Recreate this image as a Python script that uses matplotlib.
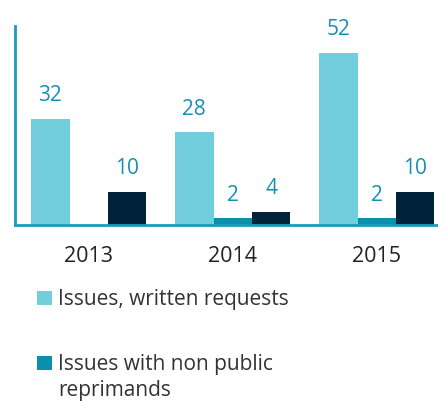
import matplotlib.pyplot as plt
import numpy as np

plt.rcParams["font.family"] = ["Open Sans", "DejaVu Sans"]

years = ["2013", "2014", "2015"]
series_names = [
    "Issues, written requests",
    "Issues with non public",
    "Issues with public reprimands",
]
name_wrap = "reprimands"  # second line of the second legend entry
written_requests = [32, 28, 52]
non_public = [0, 2, 2]
public = [10, 4, 10]

colors = ["#72cddd", "#0a90ae", "#00233a"]
label_color = "#1590b0"
axis_color = "#1a9dbb"
W, H = 438, 401

fig = plt.figure(figsize=(W / 100, H / 100), dpi=100)
ax = fig.add_axes([15 / W, 1 - 225 / H, 1 - 15 / W, (225 - 26) / H])

x = np.arange(len(years))
width = 0.267
bars = []
for i, (vals, col) in enumerate(zip([written_requests, non_public, public], colors)):
    b = ax.bar(x + (i - 1) * width, vals, width, color=col, linewidth=0)
    bars.append(b)
    for rect, v in zip(b, vals):
        if v == 0:
            continue
        ax.annotate(str(v), (rect.get_x() + rect.get_width() / 2, v),
                    xytext=(0, 9), textcoords="offset points",
                    ha="center", va="bottom", fontsize=15, color=label_color)

ax.set_xlim(-0.512, 2.425)
ax.set_ylim(0, 60)
ax.set_xticks(x)
ax.set_xticklabels(years, fontsize=15.5, color="#222222")
ax.tick_params(axis="x", length=0, pad=15)
ax.set_yticks([])
for side in ["top", "right"]:
    ax.spines[side].set_visible(False)
for side in ["left", "bottom"]:
    ax.spines[side].set_color(axis_color)
    ax.spines[side].set_linewidth(2)

leg = fig.legend(bars[:2], series_names[:2], loc="upper left",
                 bbox_to_anchor=(27 / W, 1 - 279 / H), frameon=False,
                 fontsize=15, handlelength=0.68, handleheight=0.68,
                 handletextpad=0.3, labelspacing=2.1, borderpad=0)
for t in leg.get_texts():
    t.set_color("#333333")

# wrapped continuation of the second entry, under its first line
fig.canvas.draw()
bb = leg.get_texts()[1].get_window_extent()
fig.text(bb.x0 / W, (bb.y0 - 26) / H, name_wrap, fontsize=15,
         color="#333333", ha="left", va="bottom")

fig.savefig("out.png", dpi=100)
